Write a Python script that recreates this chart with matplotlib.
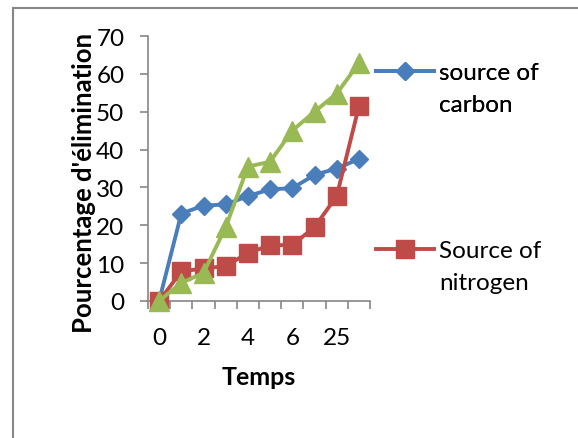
import matplotlib.pyplot as plt
from matplotlib.lines import Line2D
from matplotlib.patches import Rectangle

# valeurs
temps = ['0', '1', '2', '3', '4', '5', '6', '24', '25', '48']
carbone = [0, 23.1, 25.2, 25.5, 27.7, 29.5, 29.8, 33.3, 35.0, 37.5]
azote = [0, 7.8, 8.6, 9.2, 12.7, 14.7, 14.8, 19.5, 27.7, 51.4]
autre = [0, 4.8, 7.4, 19.5, 35.5, 36.8, 45.0, 50.0, 54.8, 62.8]

bleu = '#4A7EBB'
rouge = '#BE4B48'
vert = '#98B954'
gris = '#868686'

plt.rcParams['font.family'] = ['Lato', 'DejaVu Sans']
taille = 17.5

fig = plt.figure(figsize=(5.78, 4.39), dpi=100)
fig.patches.append(Rectangle((13 / 578, -0.1), 1.2, (1 - 9 / 439) + 0.1,
                             transform=fig.transFigure, fill=False,
                             edgecolor=gris, linewidth=1.5))

ax = fig.add_axes([148 / 578, 1 - 302 / 439, 222 / 578, 265 / 439])
x = list(range(len(temps)))

ax.plot(x, carbone, color=bleu, lw=2.8, marker='D', ms=9.5, zorder=3)
ax.plot(x, azote, color=rouge, lw=2.8, marker='s', ms=12.5, zorder=4)
ax.plot(x, autre, color=vert, lw=2.8, marker='^', ms=14, zorder=5)
for l in ax.lines:
    l.set_clip_on(False)

ax.set_xlim(-0.5, len(temps) - 0.5)
ax.set_ylim(0, 70)
ax.set_yticks(range(0, 71, 10))
ax.set_xticks(x[::2])
ax.set_xticklabels(temps[::2])
ax.set_xticks([i - 0.5 for i in range(len(temps) + 1)], minor=True)
ax.tick_params(axis='x', which='major', length=0, pad=19, labelsize=taille)
ax.tick_params(axis='x', which='minor', length=6, color=gris, width=1.2)
ax.tick_params(axis='y', length=6, color=gris, width=1.2, pad=11, labelsize=taille)

for s in ['top', 'right']:
    ax.spines[s].set_visible(False)
for s in ['left', 'bottom']:
    ax.spines[s].set_color(gris)
    ax.spines[s].set_linewidth(1.2)

ax.set_ylabel("Pourcentage d'élimination", fontsize=18.5, fontweight='bold')
ax.yaxis.set_label_coords(-52 / 222, 0.45)
ax.set_xlabel('Temps', fontsize=18, fontweight='bold', labelpad=12)

vide = Line2D([], [], linestyle='none')
h_c = Line2D([], [], color=bleu, lw=2.8, marker='D', ms=9.5)
h_n = Line2D([], [], color=rouge, lw=2.8, marker='s', ms=12.5)
options = dict(loc='upper left', frameon=False, fontsize=taille,
               handlelength=2.4, handletextpad=0.2, labelspacing=0.45,
               borderpad=0, borderaxespad=0)
leg1 = fig.legend([h_c, vide], ['source of', 'carbon'],
                  bbox_to_anchor=(376 / 578, 1 - 63 / 439), **options)
leg2 = fig.legend([h_n, vide], ['Source of', 'nitrogen'],
                  bbox_to_anchor=(376 / 578, 1 - 241 / 439), **options)
fig.add_artist(leg1)

fig.savefig('out.png', dpi=100)
